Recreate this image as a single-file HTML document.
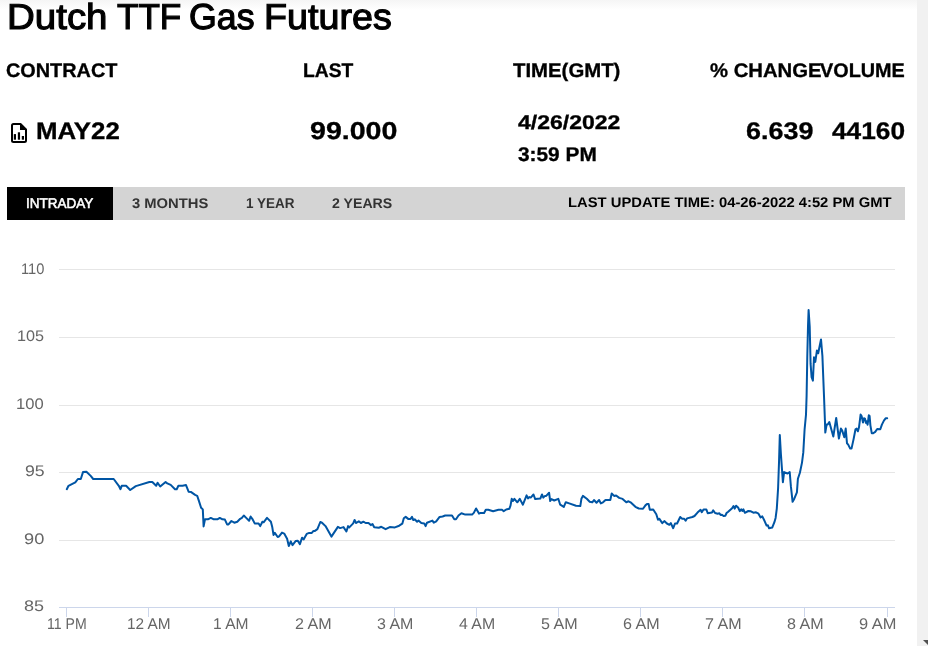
<!DOCTYPE html>
<html lang="en">
<head>
<meta charset="utf-8">
<title>Dutch TTF Gas Futures</title>
<style>
html,body{margin:0;padding:0;}
body{width:928px;height:646px;overflow:hidden;background:#fff;position:relative;font-family:"Liberation Sans",sans-serif;color:#000;}
.topshade{position:absolute;left:0;top:0;width:917px;height:10px;background:linear-gradient(#f5f5f5,#fff);}
.scroll{position:absolute;left:917px;top:0;width:11px;height:646px;background:#f1f1f1;}
.arrow{position:absolute;left:923px;top:640px;width:0;height:0;border-left:5px solid transparent;border-right:5px solid transparent;border-top:5px solid #505050;}
.t{position:absolute;margin:0;white-space:nowrap;line-height:1;transform-origin:0 0;display:block;text-rendering:geometricPrecision;}
.bar{position:absolute;left:7px;top:187px;width:898px;height:33px;background:#d4d4d4;}
.active{position:absolute;left:7px;top:187px;width:106px;height:33px;background:#000;}
.chart{position:absolute;left:0;top:0;}
.icon{position:absolute;left:11.15px;top:122.9px;}
</style>
</head>
<body>
<div class="topshade"></div>
<h1 style="margin:0;font-size:34px;font-weight:normal"><span class="t" id="w1" style="left:6.75px;top:-1.2px;font-size:34px;font-weight:normal;color:#000;transform:scale(1.1318,1.0600);-webkit-text-stroke:1.1px #000;">Dutch</span> <span class="t" id="w2" style="left:116.64px;top:-1.2px;font-size:34px;font-weight:normal;color:#000;transform:scale(1.0318,1.0600);-webkit-text-stroke:1.1px #000;">TTF</span> <span class="t" id="w3" style="left:188.89px;top:-1.2px;font-size:34px;font-weight:normal;color:#000;transform:scale(1.0512,1.0600);-webkit-text-stroke:1.1px #000;">Gas</span> <span class="t" id="w4" style="left:263.81px;top:-1.2px;font-size:34px;font-weight:normal;color:#000;transform:scale(1.1082,1.0600);-webkit-text-stroke:1.1px #000;">Futures</span></h1>
<span class="t" id="h1" style="left:6.47px;top:60.72px;font-size:18px;font-weight:bold;color:#000;transform:scale(1.1030,1.0902);-webkit-text-stroke:0.3px #000;">CONTRACT</span>
<span class="t" id="h2" style="left:302.76px;top:60.72px;font-size:18px;font-weight:bold;color:#000;transform:scale(1.0703,1.0902);-webkit-text-stroke:0.3px #000;">LAST</span>
<span class="t" id="h3" style="left:512.82px;top:60.72px;font-size:18px;font-weight:bold;color:#000;transform:scale(1.1307,1.0902);-webkit-text-stroke:0.3px #000;">TIME(GMT)</span>
<span class="t" id="h4" style="left:709.84px;top:60.72px;font-size:18px;font-weight:bold;color:#000;transform:scale(1.1263,1.0902);-webkit-text-stroke:0.3px #000;">% CHANGE</span>
<span class="t" id="h5" style="left:820.42px;top:60.72px;font-size:18px;font-weight:bold;color:#000;transform:scale(1.1013,1.0902);-webkit-text-stroke:0.3px #000;">VOLUME</span>
<svg class="icon" width="17" height="21" viewBox="0 0 17 21"><path d="M2.500 1 H9.500 L15 6.500 V17.500 Q15 19 13.500 19 H2.500 Q1 19 1 17.500 V2.500 Q1 1 2.500 1 Z" fill="none" stroke="#000" stroke-width="2" stroke-linejoin="round"/><path d="M9 0.500 L15.500 7 H9 Z" fill="#000"/><rect x="2.800" y="11.100" width="2.200" height="5.600" fill="#000"/><rect x="6.850" y="9.300" width="2.200" height="7.400" fill="#000"/><rect x="10.800" y="13" width="2.200" height="3.700" fill="#000"/></svg>
<span class="t" id="v1" style="left:36.01px;top:118.94px;font-size:23px;font-weight:bold;color:#000;transform:scale(1.1239,1.0375);-webkit-text-stroke:0.3px #000;">MAY22</span>
<span class="t" id="v2" style="left:310.27px;top:118.57px;font-size:23px;font-weight:bold;color:#000;transform:scale(1.2422,1.0585);-webkit-text-stroke:0.3px #000;">99.000</span>
<span class="t" id="v3a" style="left:518.38px;top:112.34px;font-size:18px;font-weight:bold;color:#000;transform:scale(1.2782,1.1024);-webkit-text-stroke:0.3px #000;">4/26/2022</span>
<span class="t" id="v3b" style="left:518.12px;top:144.6px;font-size:18px;font-weight:bold;color:#000;transform:scale(1.1579,1.0988);-webkit-text-stroke:0.3px #000;">3:59 PM</span>
<span class="t" id="v4" style="left:746.12px;top:118.81px;font-size:23px;font-weight:bold;color:#000;transform:scale(1.1714,1.0462);-webkit-text-stroke:0.3px #000;">6.639</span>
<span class="t" id="v5" style="left:831.71px;top:118.81px;font-size:23px;font-weight:bold;color:#000;transform:scale(1.1426,1.0462);-webkit-text-stroke:0.3px #000;">44160</span>
<div class="bar"></div>
<div class="active"></div>
<span class="t" id="t1" style="left:25.74px;top:196.0px;font-size:14px;font-weight:normal;color:#fff;transform:scale(0.9638,1.0000);-webkit-text-stroke:0.55px #fff;">INTRADAY</span>
<span class="t" id="t2" style="left:132.14px;top:196.0px;font-size:14px;font-weight:bold;color:#333;transform:scale(1.0545,1.0000);">3 MONTHS</span>
<span class="t" id="t3" style="left:245.68px;top:196.0px;font-size:14px;font-weight:bold;color:#333;transform:scale(0.9645,1.0200);">1 YEAR</span>
<span class="t" id="t4" style="left:332.29px;top:196.0px;font-size:14px;font-weight:bold;color:#333;transform:scale(1.0103,1.0000);">2 YEARS</span>
<span class="t" id="t5" style="left:567.85px;top:194.64px;font-size:14px;font-weight:bold;color:#000;transform:scale(1.0567,1.0000);">LAST UPDATE TIME: 04-26-2022 4:52 PM GMT</span>
<svg class="chart" width="928" height="646" viewBox="0 0 928 646">
<path d="M59 269.5 H895" stroke="#e6e6e6" stroke-width="1" fill="none"/>
<path d="M59 337.5 H895" stroke="#e6e6e6" stroke-width="1" fill="none"/>
<path d="M59 405.5 H895" stroke="#e6e6e6" stroke-width="1" fill="none"/>
<path d="M59 472.5 H895" stroke="#e6e6e6" stroke-width="1" fill="none"/>
<path d="M59 540.5 H895" stroke="#e6e6e6" stroke-width="1" fill="none"/>
<path d="M59 607.5 H895" stroke="#ccd6eb" stroke-width="1" fill="none"/>
<path d="M66.5 607 V617" stroke="#ccd6eb" stroke-width="1" fill="none"/>
<path d="M148.5 607 V617" stroke="#ccd6eb" stroke-width="1" fill="none"/>
<path d="M230.5 607 V617" stroke="#ccd6eb" stroke-width="1" fill="none"/>
<path d="M312.5 607 V617" stroke="#ccd6eb" stroke-width="1" fill="none"/>
<path d="M394.5 607 V617" stroke="#ccd6eb" stroke-width="1" fill="none"/>
<path d="M476.5 607 V617" stroke="#ccd6eb" stroke-width="1" fill="none"/>
<path d="M558.5 607 V617" stroke="#ccd6eb" stroke-width="1" fill="none"/>
<path d="M640.5 607 V617" stroke="#ccd6eb" stroke-width="1" fill="none"/>
<path d="M722.5 607 V617" stroke="#ccd6eb" stroke-width="1" fill="none"/>
<path d="M804.5 607 V617" stroke="#ccd6eb" stroke-width="1" fill="none"/>
<path d="M887.5 607 V617" stroke="#ccd6eb" stroke-width="1" fill="none"/>
<path d="M66.8 489.2 L68.5 485.8 L75.3 482.4 L77.9 479.0 L80.8 479.0 L83.0 472.1 L86.4 471.8 L90.7 475.9 L93.2 479.0 L113.7 479.0 L118.8 485.8 L120.5 489.2 L121.7 485.8 L126.1 485.8 L130.2 490.0 L135.8 486.1 L149.4 482.0 L152.3 482.0 L156.2 485.8 L157.6 482.7 L160.2 486.5 L165.6 482.0 L167.3 483.4 L170.7 484.9 L175.0 489.2 L176.7 489.2 L178.4 485.8 L182.6 485.8 L186.0 485.1 L188.6 491.7 L191.2 492.1 L195.1 494.9 L197.2 495.8 L198.9 500.9 L201.1 507.7 L202.8 509.4 L203.6 526.4 L205.0 519.3 L207.9 519.3 L210.8 517.9 L213.8 519.3 L217.3 519.3 L219.8 517.9 L222.4 519.3 L224.9 519.6 L227.1 524.4 L228.5 524.4 L231.4 521.0 L234.3 522.7 L237.3 521.7 L240.2 518.8 L241.9 517.9 L243.8 515.5 L246.2 517.9 L249.1 520.8 L250.6 516.5 L252.3 518.8 L254.7 523.4 L258.6 523.4 L260.2 526.1 L262.4 521.7 L263.6 522.3 L267.0 517.9 L270.9 521.7 L272.3 527.3 L273.5 534.9 L274.8 532.9 L277.7 537.0 L279.1 536.3 L282.0 532.6 L284.2 533.6 L287.1 538.7 L288.8 546.0 L290.8 541.4 L292.5 545.2 L295.6 541.1 L297.8 540.7 L299.9 544.1 L302.1 537.7 L303.6 539.4 L306.7 533.9 L309.2 532.9 L311.8 532.9 L313.5 530.9 L314.9 530.9 L317.4 529.2 L320.3 522.0 L322.0 522.7 L325.5 526.1 L331.4 536.6 L337.9 526.9 L340.1 528.1 L343.5 527.1 L346.4 531.5 L348.1 526.1 L349.3 527.4 L353.2 523.4 L354.6 520.0 L356.1 523.0 L358.8 521.3 L360.9 523.0 L363.4 521.7 L365.6 523.0 L368.5 523.0 L370.8 525.1 L372.5 524.0 L374.2 527.3 L378.8 527.8 L381.3 526.8 L385.6 529.2 L389.8 527.1 L394.9 527.4 L399.2 525.7 L402.3 523.7 L403.8 518.3 L405.7 516.9 L408.2 518.9 L410.6 518.9 L412.0 516.9 L413.3 520.0 L414.7 519.3 L417.1 521.7 L418.5 520.6 L421.3 523.0 L424.2 523.4 L425.6 526.1 L427.0 522.7 L432.4 520.6 L433.8 522.7 L436.2 521.3 L439.6 516.9 L442.6 516.5 L445.2 515.5 L452.0 515.5 L454.3 519.2 L456.0 519.2 L458.5 515.5 L461.4 513.2 L465.3 514.6 L472.1 514.6 L473.8 512.9 L476.1 508.5 L479.0 513.6 L480.7 512.9 L484.1 512.9 L485.8 509.8 L488.3 509.8 L493.1 511.2 L498.5 509.8 L502.0 509.8 L503.7 511.2 L506.2 509.5 L509.3 508.8 L510.5 505.6 L511.7 498.8 L513.0 501.0 L514.4 498.9 L517.3 502.3 L519.8 498.9 L522.9 504.7 L526.6 495.4 L528.0 498.4 L529.4 497.1 L530.7 497.6 L533.5 494.5 L535.2 499.1 L540.3 498.6 L542.0 494.5 L543.3 497.6 L545.0 495.9 L546.2 495.9 L549.1 492.8 L550.2 501.0 L551.5 499.1 L554.2 500.5 L558.3 498.8 L560.2 504.7 L563.8 506.9 L565.8 502.2 L569.2 503.4 L576.0 505.7 L580.3 506.1 L581.4 498.8 L582.9 495.9 L586.8 498.8 L589.7 501.7 L592.3 502.3 L594.0 500.0 L596.5 502.7 L599.1 500.0 L600.8 503.4 L603.0 502.3 L605.5 500.0 L610.3 500.0 L611.7 493.5 L614.1 495.9 L616.1 495.5 L619.2 497.9 L622.6 498.9 L626.3 502.2 L628.5 501.3 L631.1 502.7 L635.4 506.8 L638.8 508.5 L643.0 508.8 L645.6 505.1 L647.3 503.9 L648.6 503.9 L649.8 509.8 L653.2 509.5 L656.3 514.3 L658.0 519.7 L659.2 518.7 L662.3 523.1 L664.3 521.1 L666.9 523.5 L669.4 524.8 L670.8 523.1 L673.2 528.2 L675.0 523.5 L677.1 523.5 L680.2 517.0 L682.2 518.7 L684.2 518.7 L685.6 520.7 L687.0 518.4 L692.4 517.0 L694.5 516.0 L697.5 512.6 L700.6 509.8 L701.8 512.2 L703.5 509.5 L706.4 509.5 L707.7 513.2 L712.0 512.4 L713.2 510.3 L715.1 513.0 L717.7 513.7 L719.4 513.3 L720.6 515.0 L721.9 514.7 L723.6 516.1 L725.3 515.7 L726.7 512.8 L727.9 512.0 L732.1 508.2 L733.5 506.0 L734.7 508.6 L736.1 505.7 L738.1 507.5 L739.8 511.1 L741.2 509.3 L742.4 511.0 L743.4 509.3 L744.9 512.8 L748.3 511.0 L750.9 511.3 L753.4 512.7 L756.0 512.3 L758.5 513.7 L760.6 517.4 L762.3 516.4 L764.5 520.8 L766.6 525.6 L767.9 525.3 L769.1 528.3 L772.2 527.6 L774.4 522.2 L775.6 517.9 L776.8 508.6 L778.1 488.1 L779.0 462.6 L779.8 435.0 L780.9 454.1 L782.9 482.2 L784.1 472.1 L787.5 473.5 L789.7 472.0 L790.9 486.4 L792.6 501.8 L794.3 498.7 L796.9 492.4 L797.9 478.8 L799.9 472.8 L802.0 462.6 L803.3 452.4 L804.6 429.3 L806.0 414.6 L806.6 396.0 L807.3 355.9 L808.0 326.6 L808.6 310.0 L809.7 326.6 L810.6 363.9 L811.6 377.2 L812.9 380.6 L814.0 357.3 L815.3 361.9 L816.9 350.6 L818.2 353.3 L821.0 339.4 L822.4 355.9 L824.0 396.0 L824.9 420.0 L825.3 432.6 L826.6 424.6 L827.7 424.6 L829.3 422.0 L831.3 429.3 L833.3 436.6 L836.2 418.0 L838.9 438.6 L840.9 428.6 L842.2 430.6 L844.3 437.3 L845.7 428.6 L847.0 443.3 L848.2 444.6 L850.2 448.6 L851.5 448.6 L853.7 438.6 L855.5 429.3 L856.6 428.6 L857.9 431.3 L859.0 427.3 L860.6 414.6 L861.6 416.0 L863.0 422.6 L864.0 418.3 L865.0 418.6 L865.9 422.9 L866.7 421.3 L867.6 424.7 L868.8 415.3 L869.6 416.0 L870.4 425.3 L871.8 433.3 L873.2 433.3 L875.2 431.9 L877.2 429.0 L880.3 429.3 L881.9 424.6 L883.9 420.6 L885.6 418.3 L887.2 418.3" stroke="#0055a4" stroke-width="2" fill="none" stroke-linejoin="round" stroke-linecap="round"/>
</svg>
<span class="t" id="y110" style="left:20.82px;top:261.81px;font-size:15.5px;font-weight:normal;color:#666;transform:scale(0.9451,0.9909);">110</span>
<span class="t" id="y105" style="left:17.09px;top:328.81px;font-size:15.5px;font-weight:normal;color:#666;transform:scale(1.0458,0.9909);">105</span>
<span class="t" id="y100" style="left:16.46px;top:396.81px;font-size:15.5px;font-weight:normal;color:#666;transform:scale(1.0708,0.9909);">100</span>
<span class="t" id="y95" style="left:24.64px;top:463.81px;font-size:15.5px;font-weight:normal;color:#666;transform:scale(1.1429,0.9909);">95</span>
<span class="t" id="y90" style="left:23.82px;top:531.81px;font-size:15.5px;font-weight:normal;color:#666;transform:scale(1.1750,0.9909);">90</span>
<span class="t" id="y85" style="left:24.33px;top:598.81px;font-size:15.5px;font-weight:normal;color:#666;transform:scale(1.1619,0.9909);">85</span>
<span class="t" id="x0" style="left:46.71px;top:616.75px;font-size:15.5px;font-weight:normal;color:#666;transform:scale(0.9091,1.0000);">11 PM</span>
<span class="t" id="x1" style="left:126.81px;top:616.75px;font-size:15.5px;font-weight:normal;color:#666;transform:scale(0.9928,1.0000);">12 AM</span>
<span class="t" id="x2" style="left:212.99px;top:616.75px;font-size:15.5px;font-weight:normal;color:#666;transform:scale(1.0046,1.0000);">1 AM</span>
<span class="t" id="x3" style="left:294.72px;top:616.75px;font-size:15.5px;font-weight:normal;color:#666;transform:scale(1.0376,1.0000);">2 AM</span>
<span class="t" id="x4" style="left:377.04px;top:616.75px;font-size:15.5px;font-weight:normal;color:#666;transform:scale(1.0299,1.0000);">3 AM</span>
<span class="t" id="x5" style="left:459.34px;top:616.75px;font-size:15.5px;font-weight:normal;color:#666;transform:scale(1.0222,1.0000);">4 AM</span>
<span class="t" id="x6" style="left:540.87px;top:616.75px;font-size:15.5px;font-weight:normal;color:#666;transform:scale(1.0376,1.0000);">5 AM</span>
<span class="t" id="x7" style="left:622.92px;top:616.75px;font-size:15.5px;font-weight:normal;color:#666;transform:scale(1.0376,1.0000);">6 AM</span>
<span class="t" id="x8" style="left:704.97px;top:616.75px;font-size:15.5px;font-weight:normal;color:#666;transform:scale(1.0376,1.0000);">7 AM</span>
<span class="t" id="x9" style="left:787.02px;top:616.75px;font-size:15.5px;font-weight:normal;color:#666;transform:scale(1.0376,1.0000);">8 AM</span>
<span class="t" id="x10" style="left:859.21px;top:616.75px;font-size:15.5px;font-weight:normal;color:#666;transform:scale(1.0586,1.0000);">9 AM</span>
<div class="scroll"></div>
<div class="arrow"></div>
</body>
</html>
